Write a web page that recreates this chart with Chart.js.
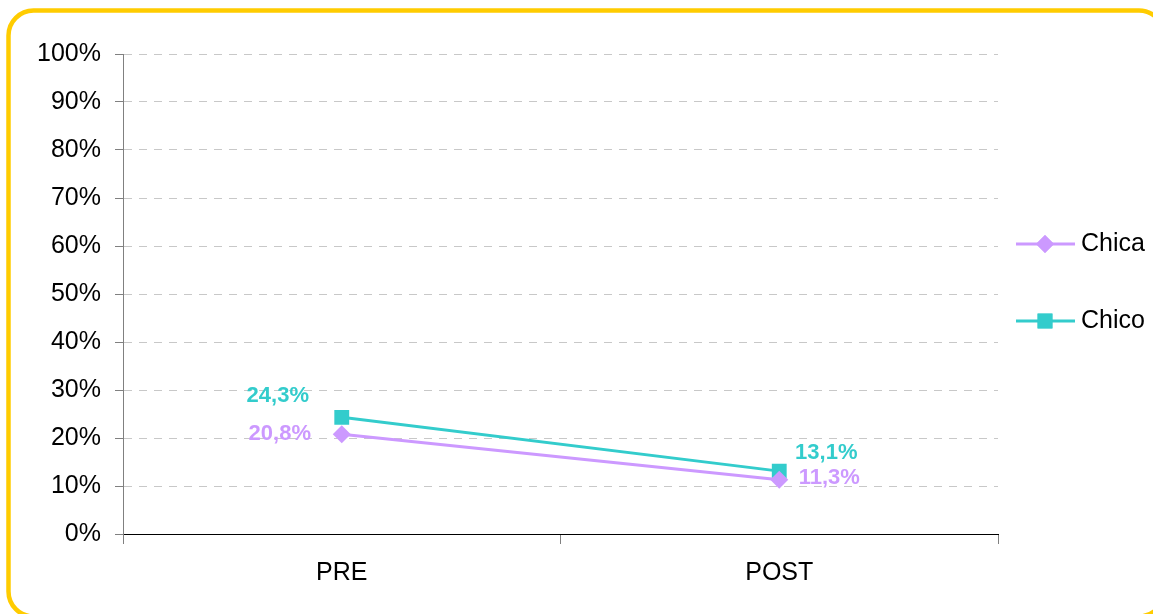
<!DOCTYPE html>
<html>
<head>
<meta charset="utf-8">
<script src="https://cdn.jsdelivr.net/npm/chart.js@4/dist/chart.umd.min.js"></script>
<style>
html,body{margin:0;padding:0;background:#fff;overflow:hidden;}
#wrap{width:1153px;height:614px;position:relative;}
</style>
</head>
<body>
<div id="wrap"><canvas id="c" width="1153" height="614"></canvas></div>
<script>
const categories = ["PRE", "POST"];
const seriesNames = ["Chica", "Chico"];
const chicaValues = [20.8, 11.3];
const chicoValues = [24.3, 13.1];
const yTicks = [0, 10, 20, 30, 40, 50, 60, 70, 80, 90, 100];

const colors = {Chica: "#CC99FF", Chico: "#33CCCC"};

const fmt = v => v.toFixed(1).replace(".", ",") + "%";

const framePlugin = {
  id: "frame",
  beforeDraw(chart) {
    const ctx = chart.ctx;
    ctx.save();
    ctx.fillStyle = "#fff";
    ctx.fillRect(0, 0, chart.width, chart.height);
    ctx.strokeStyle = "#FFCC00";
    ctx.lineWidth = 4.5;
    ctx.beginPath();
    ctx.roundRect(8.5, 10.5, 1155.5, 606, 25);
    ctx.stroke();
    ctx.restore();
  }
};

const labelPlugin = {
  id: "valLabels",
  afterDatasetsDraw(chart, args, opts) {
    const ctx = chart.ctx;
    ctx.save();
    ctx.font = "bold 22px 'Liberation Sans', Arial, sans-serif";
    ctx.textAlign = "center";
    ctx.textBaseline = "middle";
    chart.data.datasets.forEach((ds, di) => {
      const meta = chart.getDatasetMeta(di);
      meta.data.forEach((pt, i) => {
        const off = opts.offsets[ds.label][i];
        ctx.fillStyle = ds.borderColor;
        ctx.fillText(fmt(ds.data[i]), pt.x + off[0], pt.y + off[1]);
      });
    });
    ctx.restore();
  }
};

const legendPlugin = {
  id: "customLegend",
  afterDraw(chart, args, opts) {
    const ctx = chart.ctx;
    ctx.save();
    chart.data.datasets.forEach((ds, di) => {
      const y = opts.ys[di];
      ctx.strokeStyle = ds.borderColor;
      ctx.lineWidth = 3;
      ctx.beginPath();
      ctx.moveTo(1016, y);
      ctx.lineTo(1075, y);
      ctx.stroke();
      ctx.fillStyle = ds.borderColor;
      Chart.helpers.drawPoint(ctx, {pointStyle: ds.pointStyle, radius: ds.pointRadius, rotation: 0, borderWidth: 0}, 1045, y);
      ctx.fill();
      ctx.fillStyle = "#000";
      ctx.font = "25px 'Liberation Sans', Arial, sans-serif";
      ctx.textAlign = "left";
      ctx.textBaseline = "middle";
      ctx.fillText(ds.label, 1081, y);
    });
    ctx.restore();
  }
};

new Chart(document.getElementById("c"), {
  type: "line",
  data: {
    labels: categories,
    datasets: [
      {
        label: seriesNames[0],
        data: chicaValues,
        borderColor: colors.Chica,
        backgroundColor: colors.Chica,
        pointStyle: "rectRot",
        pointRadius: 9,
        pointHoverRadius: 9,
        pointBorderWidth: 0,
        borderWidth: 3,
        tension: 0
      },
      {
        label: seriesNames[1],
        data: chicoValues,
        borderColor: colors.Chico,
        backgroundColor: colors.Chico,
        pointStyle: "rect",
        pointRadius: 10.5,
        pointHoverRadius: 10.5,
        pointBorderWidth: 0,
        borderWidth: 3,
        tension: 0
      }
    ]
  },
  options: {
    responsive: false,
    animation: false,
    events: [],
    layout: {padding: {left: 0, top: 54, right: 155, bottom: 0}},
    plugins: {
      legend: {display: false},
      tooltip: {enabled: false},
      valLabels: {
        offsets: {
          Chica: [[-62, 0], [50, -2]],
          Chico: [[-64, -21], [47, -18]]
        }
      },
      customLegend: {ys: [244, 321]}
    },
    scales: {
      x: {
        type: "category",
        offset: true,
        afterFit(s) { s.height = 80; },
        grid: {
          offset: true,
          drawOnChartArea: false,
          drawTicks: true,
          tickLength: 10,
          tickColor: "#808080",
          tickWidth: 1
        },
        border: {color: "#000", width: 1},
        ticks: {
          color: "#000",
          padding: 14,
          font: {family: "'Liberation Sans', Arial, sans-serif", size: 25}
        }
      },
      y: {
        min: 0,
        max: 100,
        afterFit(s) { s.width = 123; },
        afterBuildTicks(s) { s.ticks = yTicks.map(v => ({value: v})); },
        grid: {
          color: ctx => ctx.tick && ctx.tick.value === 0 ? "rgba(0,0,0,0)" : "#C8C8C8",
          lineWidth: 1,
          tickLength: 8,
          tickColor: "#808080",
          tickBorderDash: [],
          tickWidth: 1
        },
        border: {color: "#808080", width: 1, dash: [8, 7]},
        ticks: {
          color: "#000",
          padding: 14,
          callback: v => v + "%",
          font: {family: "'Liberation Sans', Arial, sans-serif", size: 25}
        }
      }
    }
  },
  plugins: [framePlugin, labelPlugin, legendPlugin]
});
</script>
</body>
</html>
